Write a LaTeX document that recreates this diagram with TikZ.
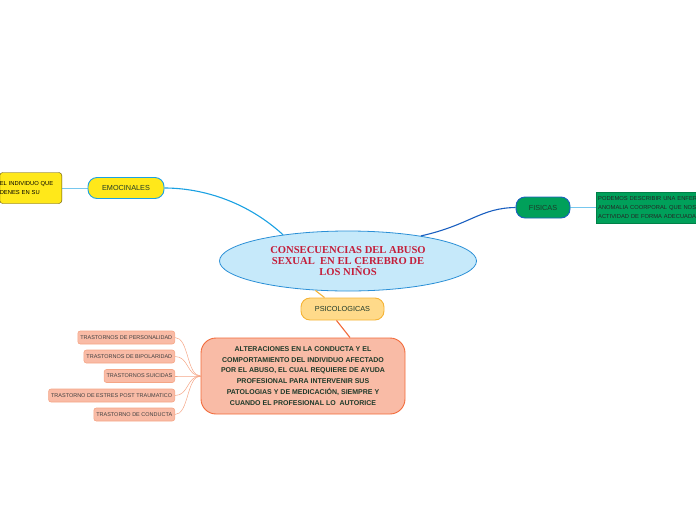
\documentclass[tikz,border=0pt]{standalone}
\usepackage{fontspec}
\setmainfont{Liberation Sans}
\newfontfamily\serifbold{Liberation Serif}
\usetikzlibrary{shapes.geometric,calc}
\definecolor{cblue}{HTML}{C6E9FA}
\definecolor{cblueb}{HTML}{2A8FD6}
\definecolor{ctext}{HTML}{C41E3A}
\definecolor{yel}{HTML}{FFE81A}
\definecolor{yelb}{HTML}{5A4A00}
\definecolor{lblue}{HTML}{1BA1E2}
\definecolor{dblue}{HTML}{1A5FC0}
\definecolor{grn}{HTML}{00A05A}
\definecolor{psf}{HTML}{FFDA8A}
\definecolor{psb}{HTML}{F5B335}
\definecolor{sal}{HTML}{F9BBA6}
\definecolor{salb}{HTML}{F26A3A}
\definecolor{sall}{HTML}{F5A585}
\definecolor{dk}{HTML}{1E3A2A}
\begin{document}
\begin{tikzpicture}[x=1pt,y=-1pt,
  topic/.style={draw, rounded corners=9pt, line width=0.9pt, minimum height=21pt, inner xsep=6pt, font=\fontsize{7.3}{8}\selectfont, text=dk},
  leaf/.style={draw=sall, fill=sal, rounded corners=2.5pt, line width=0.6pt, minimum height=13pt, inner xsep=2.5pt, inner ysep=0pt, font=\fontsize{5.5}{6}\selectfont, text=black!75},
  note/.style={font=\fontsize{5.8}{9}\selectfont, align=left, inner ysep=2pt},
  conn/.style={line width=1.1pt}]
\useasboundingbox (0,0) rectangle (696,520);
% central
\node[ellipse, draw=cblueb, fill=cblue, line width=0.8pt, minimum width=257pt, minimum height=60pt, inner sep=0pt,
  font=\serifbold\bfseries\fontsize{10.6}{11.4}\selectfont, text=ctext, align=center] (c) at (348,261)
  {CONSECUENCIAS DEL ABUSO\\SEXUAL\ \ EN EL CEREBRO DE\\LOS NIÑOS};
% emocinales
\node[topic, fill=yel, draw=lblue, minimum width=76pt] (emo) at (126,188) {EMOCINALES};
\node[note, draw=yelb, fill=yel, rounded corners=3pt, text width=62pt, inner xsep=0pt, minimum height=31pt, anchor=east] (emonote) at (62,188)
  {EL INDIVIDUO QUE\\DENES EN SU};
\draw[lblue, line width=0.5pt, opacity=0.6] (emonote.east) -- (emo.west);
\draw[conn, lblue] (c.158) .. controls (245,200) and (200,188) .. (emo.east);
% fisicas
\node[topic, fill=grn, draw=dblue, minimum width=54pt] (fis) at (543,207.5) {FISICAS};
\node[note, fill=grn, draw=grn!80!black, line width=0.3pt, text width=110pt, minimum height=31pt, inner xsep=2pt, anchor=west, text=black!85] (fisnote) at (596,207.5)
  {PODEMOS DESCRIBIR UNA ENFER\\ANOMALIA COORPORAL QUE NOS\\ACTIVIDAD DE FORMA ADECUADA};
\draw[lblue, line width=0.5pt, opacity=0.6] (fis.east) -- (fisnote.west);
\draw[conn, dblue] (c.19) .. controls (470,225) and (480,208) .. (fis.west);
% psicologicas
\node[topic, fill=psf, draw=psb, minimum width=83pt, minimum height=22pt] (psi) at (342.5,309) {PSICOLOGICAS};
\draw[conn, psb] (c.222) -- ($(psi.north)+(-18,0)$);
\node[draw=salb, fill=sal, line width=0.9pt, rounded corners=15pt, minimum width=204pt, minimum height=76pt,
  font=\bfseries\fontsize{7}{10.9}\selectfont, text=dk, align=center] (big) at (303,376)
  {ALTERACIONES EN LA CONDUCTA Y EL\\COMPORTAMIENTO DEL INDIVIDUO AFECTADO\\POR EL ABUSO, EL CUAL REQUIERE DE AYUDA\\PROFESIONAL PARA INTERVENIR SUS\\PATOLOGIAS Y DE MEDICACIÓN, SIEMPRE Y\\CUANDO EL PROFESIONAL LO\ \ AUTORICE};
\draw[conn, salb] ($(psi.south)+(-6,0)$) -- ($(big.north)+(47,0)$);
% leaves
\node[leaf, anchor=east] (l1) at (175,337.5) {TRASTORNOS DE PERSONALIDAD};
\node[leaf, anchor=east] (l2) at (175,356.5) {TRASTORNOS DE BIPOLARIDAD};
\node[leaf, anchor=east] (l3) at (175,376) {TRASTORNOS SUICIDAS};
\node[leaf, anchor=east] (l4) at (175,395.5) {TRASTORNO DE ESTRES POST TRAUMATICO};
\node[leaf, anchor=east] (l5) at (175,414.5) {TRASTORNO DE CONDUCTA};
\foreach \n in {l1,l2,l3,l4,l5}
  \draw[sall, line width=0.5pt] (\n.east) .. controls +(14,0) and +(-14,0) .. (big.west);
\end{tikzpicture}
\end{document}
